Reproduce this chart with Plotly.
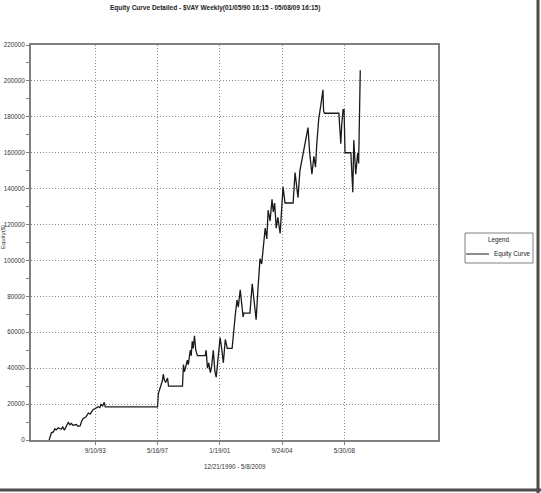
import plotly.graph_objects as go

dates = [
    "1990-12-21", "1991-01-18", "1991-02-08", "1991-03-22", "1991-04-26", "1991-05-24",
    "1991-07-05", "1991-09-06", "1991-10-11", "1991-11-15", "1991-12-20", "1992-02-07",
    "1992-03-13", "1992-04-10", "1992-05-22", "1992-07-31", "1992-09-04", "1992-10-23",
    "1992-11-20", "1992-12-25", "1993-02-19", "1993-04-16", "1993-05-28", "1993-07-30",
    "1993-09-10", "1993-11-12", "1993-12-17", "1994-01-14", "1994-02-18", "1994-03-25",
    "1994-04-15", "1997-05-16", "1997-06-06", "1997-07-18", "1997-08-29", "1997-09-19",
    "1997-10-10", "1997-11-07", "1997-12-19", "1998-01-09", "1998-11-06", "1998-11-27",
    "1998-12-18", "1999-01-08", "1999-02-19", "1999-03-12", "1999-04-23", "1999-05-14",
    "1999-06-04", "1999-06-25", "1999-07-23", "1999-08-20", "1999-09-24", "2000-03-10",
    "2000-03-31", "2000-04-28", "2000-05-26", "2000-06-30", "2000-07-28", "2000-09-01",
    "2000-10-06", "2000-11-03", "2000-12-01", "2001-01-05", "2001-01-26", "2001-02-23",
    "2001-04-06", "2001-05-18", "2001-06-29", "2001-10-12", "2001-11-16", "2001-12-21",
    "2002-01-25", "2002-02-22", "2002-04-05", "2002-05-03", "2002-06-07", "2002-06-21",
    "2002-11-01", "2002-12-20", "2003-01-24", "2003-03-14", "2003-04-25", "2003-06-06",
    "2003-07-11", "2003-08-15", "2003-09-26", "2003-10-31", "2003-11-28", "2004-01-09",
    "2004-02-20", "2004-03-19", "2004-04-16", "2004-05-21", "2004-06-25", "2004-08-13",
    "2004-09-17", "2004-10-15", "2004-11-26", "2005-05-20", "2005-07-01", "2005-08-05",
    "2005-09-02", "2005-10-14", "2005-12-16", "2006-02-17", "2006-04-07", "2006-05-12",
    "2006-06-30", "2006-08-11", "2006-09-15", "2006-10-13", "2006-11-24", "2007-01-05",
    "2007-02-23", "2007-03-09", "2007-03-30", "2008-02-01", "2008-02-22", "2008-03-14",
    "2008-04-04", "2008-05-02", "2008-05-23", "2008-06-13", "2008-10-17", "2008-11-07",
    "2008-11-28", "2008-12-19", "2009-01-09", "2009-01-30", "2009-03-13", "2009-04-03",
    "2009-04-24", "2009-05-08",
]

equity = [
    0, 2000, 4000, 4500, 6200, 5600,
    6800, 6000, 7200, 5500, 7500, 9800,
    8500, 9200, 8200, 8600, 7600, 8000,
    10500, 12000, 12800, 15000, 14500, 17000,
    17500, 18500, 18000, 19800, 19000, 21000,
    18400, 18400, 26000, 29000, 33000, 36700,
    33500, 32000, 34500, 30000, 30000, 42000,
    38000, 40000, 44500, 42000, 50000, 47000,
    55000, 51000, 58000, 50000, 47000, 47000,
    50000, 40000, 43000, 37500, 41000, 50000,
    38000, 35000, 42000, 48000, 57000, 52000,
    43000, 56000, 51000, 51000, 62000, 70000,
    78000, 74000, 83600, 78000, 68500, 70700,
    70700, 87000, 80000, 67000, 85000, 101000,
    98000, 106000, 118000, 112000, 128000, 122000,
    134000, 127000, 132000, 118000, 124000, 115000,
    130000, 141000, 132000, 132000, 149000, 140000,
    135000, 150000, 158000, 168000, 174000, 160000,
    148000, 158000, 152000, 165000, 179000, 186000,
    195000, 183000, 182000, 182000, 172000, 165000,
    176000, 184000, 184000, 160000, 160000, 152000,
    138000, 167000, 152000, 148000, 160000, 154000,
    185000, 206000,
]

x_tick_vals = ["1993-09-10", "1997-05-16", "2001-01-19", "2004-09-24", "2008-05-30"]
x_tick_text = ["9/10/93", "5/16/97", "1/19/01", "9/24/04", "5/30/08"]
y_tick_vals = [0, 20000, 40000, 60000, 80000, 100000, 120000, 140000, 160000, 180000, 200000, 220000]

title_text = "Equity Curve Detailed - $VAY Weekly(01/05/90 16:15 - 05/08/09 16:15)"
x_title = "12/21/1990 - 5/8/2009"
y_title = "Equity($)"
series_name = "Equity Curve"
legend_title = "Legend"

FONT = "Liberation Sans, Arial, sans-serif"
W, H = 541, 493
L, R, T, B = 31, 438, 45, 440


def px_x(p):
    return (p - L) / (R - L)


def px_y(p):
    return (B - p) / (B - T)


fig = go.Figure()
fig.add_trace(go.Scatter(
    x=dates, y=equity, mode="lines", name=series_name, showlegend=False,
    line=dict(color="#1a1a1a", width=1.3, shape="linear"),
))

axis_common = dict(
    showline=True, linecolor="#808080", linewidth=2, mirror=True,
    showgrid=True, gridcolor="#8a8a8a", griddash="1px,2px", gridwidth=1,
    zeroline=False, ticks="outside", tickcolor="#808080", ticklen=3, tickwidth=1,
    tickfont=dict(family=FONT, size=6.3, color="#333333"),
)

fig.update_xaxes(
    type="date", range=["1989-11-25", "2013-12-10"],
    tickmode="array", tickvals=x_tick_vals, ticktext=x_tick_text,
    **axis_common,
)
fig.update_yaxes(
    range=[0, 220000], tickmode="array", tickvals=y_tick_vals, tickformat="d",
    minor=dict(ticks="outside", dtick=10000, ticklen=3, tickcolor="#808080", showgrid=False),
    **axis_common,
)

fig.update_layout(
    width=W, height=H,
    margin=dict(l=L, r=W - R, t=T, b=H - B, autoexpand=False),
    paper_bgcolor="white", plot_bgcolor="white",
    showlegend=False,
    annotations=[
        dict(text="<b>" + title_text + "</b>", x=px_x(215), y=px_y(8), xref="paper", yref="paper",
             showarrow=False, xanchor="center", yanchor="middle",
             font=dict(family=FONT, size=6.5, color="#222")),
        dict(text=x_title, x=px_x(235), y=px_y(467), xref="paper", yref="paper",
             showarrow=False, xanchor="center", yanchor="middle",
             font=dict(family=FONT, size=6.3, color="#333")),
        dict(text=y_title, x=px_x(3), y=px_y(237), xref="paper", yref="paper",
             showarrow=False, xanchor="center", yanchor="middle", textangle=-90,
             font=dict(family=FONT, size=6, color="#333")),
        dict(text=legend_title, x=px_x(499), y=px_y(240), xref="paper", yref="paper",
             showarrow=False, xanchor="center", yanchor="middle",
             font=dict(family=FONT, size=6.3, color="#222")),
        dict(text=series_name, x=px_x(492), y=px_y(254), xref="paper", yref="paper",
             showarrow=False, xanchor="left", yanchor="middle",
             font=dict(family=FONT, size=6.3, color="#222")),
    ],
    shapes=[
        dict(type="rect", xref="paper", yref="paper", x0=px_x(465), x1=px_x(533),
             y0=px_y(233), y1=px_y(263), line=dict(color="#808080", width=1),
             fillcolor="white", layer="below"),
        dict(type="line", xref="paper", yref="paper", x0=px_x(466), x1=px_x(489),
             y0=px_y(254), y1=px_y(254), line=dict(color="#1a1a1a", width=1)),
        dict(type="line", xref="paper", yref="paper", x0=px_x(538), x1=px_x(538),
             y0=px_y(0), y1=px_y(493), line=dict(color="#4d4d4d", width=3)),
        dict(type="line", xref="paper", yref="paper", x0=px_x(0), x1=px_x(541),
             y0=px_y(490), y1=px_y(490), line=dict(color="#4d4d4d", width=3)),
    ],
)

fig.write_html("out.html")
